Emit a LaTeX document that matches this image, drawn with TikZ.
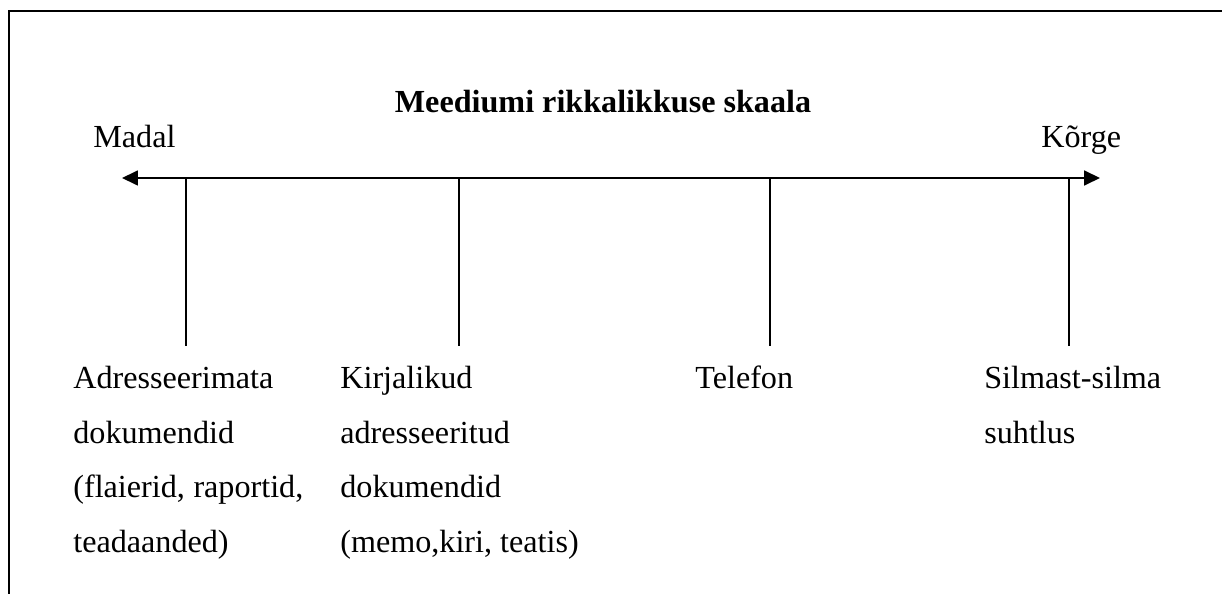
\documentclass[tikz,border=0pt]{standalone}
\usepackage{fontspec}
\setmainfont{Liberation Serif}
\usetikzlibrary{arrows.meta}
\tikzset{
  lbl/.style={inner sep=0pt,anchor=base west,align=left,font=\fontsize{18.3}{31}\selectfont},
  scaleline/.style={line width=1pt,{Triangle[length=0.32cm,width=0.3cm]}-{Triangle[length=0.32cm,width=0.3cm]}},
  tick/.style={line width=1pt}
}
\begin{document}
\begin{tikzpicture}[x=0.02cm,y=-0.02cm]
  \useasboundingbox (0,0) rectangle (1222,594);
  %% Frame
  \draw[line width=1pt] (1222,11) -- (9,11) -- (9,594);
  %% Title and ends of the scale
  \node[lbl,anchor=base,font=\fontsize{18.3}{31}\selectfont\bfseries] (title) at (603,113) {Meediumi rikkalikkuse skaala};
  \node[lbl] (madal) at (93,148) {Madal};
  \node[lbl] (korge) at (1041,148) {Kõrge};
  %% Scale
  \coordinate (low) at (122,178);
  \coordinate (high) at (1100,178);
  \draw[scaleline] (low) -- (high);
  \foreach \x [count=\i] in {186,459,770,1069} {
    \coordinate (t\i) at (\x,178);
    \coordinate (b\i) at (\x,346);
    \draw[tick] (t\i) -- (b\i);
  }
  %% Media (base = last line)
  \node[lbl] (adr) at (73,552) {Adresseerimata\\dokumendid\\\hbox to 4.6cm{(flaierid,\hfill raportid,}\\teadaanded)};
  \node[lbl] (kiri) at (340,552) {Kirjalikud\\adresseeritud\\dokumendid\\(memo,kiri, teatis)};
  \node[lbl] (tel) at (695,388) {Telefon};
  \node[lbl] (silm) at (984,443) {Silmast-silma\\suhtlus};
\end{tikzpicture}
\end{document}
